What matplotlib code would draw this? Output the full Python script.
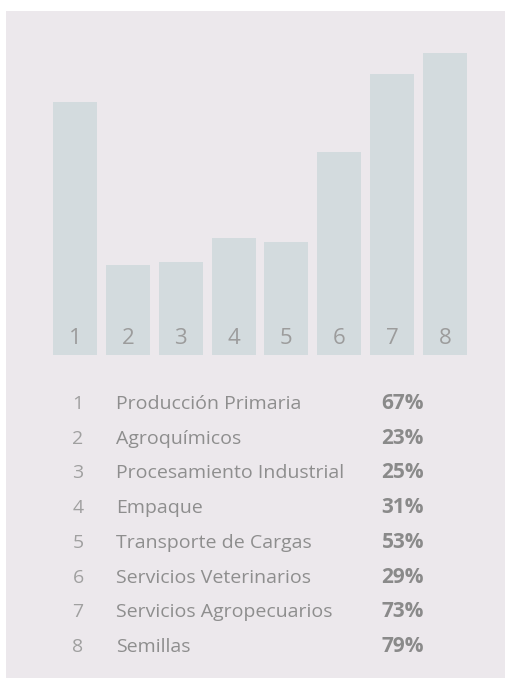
import matplotlib
matplotlib.use("Agg")
import matplotlib.pyplot as plt
from matplotlib.patches import Rectangle

# Data
bar_ids = ["1", "2", "3", "4", "5", "6", "7", "8"]
bar_values = [66.2, 23.5, 24.3, 30.6, 29.6, 53.1, 73.5, 79.0]
names = ["Producción Primaria", "Agroquímicos", "Procesamiento Industrial", "Empaque",
         "Transporte de Cargas", "Servicios Veterinarios", "Servicios Agropecuarios", "Semillas"]
pct_labels = ["67%", "23%", "25%", "31%", "53%", "29%", "73%", "79%"]

W, H = 505, 678
fig = plt.figure(figsize=(W / 100, H / 100), dpi=100, facecolor="white")
FONT = ["Open Sans", "DejaVu Sans"]

def fx(px):
    return px / W

def fy(py):
    return 1 - py / H

# Background panel
fig.patches.append(Rectangle((fx(6), 0), 1 - fx(6), fy(11), transform=fig.transFigure,
                             facecolor="#ece8ec", edgecolor="none", zorder=-5))

# Bar axes
step = (445 - 75) / 7
left_px = 75 - 0.5 * step
right_px = 445 + 0.5 * step
bottom_px, top_px = 355, 53
ax = fig.add_axes([fx(left_px), fy(bottom_px), (right_px - left_px) / W, (bottom_px - top_px) / H])
ax.set_zorder(2)
ax.set_facecolor("none")
xs = list(range(1, len(bar_values) + 1))
ax.bar(xs, bar_values, width=44 / step, color="#d3dbde", edgecolor="none")
ax.set_xlim(0.5, len(bar_values) + 0.5)
ax.set_ylim(0, max(bar_values))
ax.axis("off")
label_y = max(bar_values) * (355 - 343.5) / (bottom_px - top_px)
for x, lab in zip(xs, bar_ids):
    ax.text(x, label_y, lab, ha="center", va="baseline",
            fontsize=16, color="#9c9c9c", family=FONT)

# Table
row0, row_step = 409, (652 - 409) / 7
for i, (rid, nm, pc) in enumerate(zip(bar_ids, names, pct_labels)):
    y = fy(row0 + i * row_step)
    fig.text(fx(78), y, rid, ha="center", va="baseline", fontsize=14, color="#a0a0a0", family=FONT)
    fig.text(fx(116), y, nm, ha="left", va="baseline", fontsize=14, color="#8e8e8e", family=FONT)
    fig.text(fx(424), y, pc, ha="right", va="baseline", fontsize=15, color="#8a8a8a",
             family=FONT, fontweight="bold")

fig.savefig("out.png", dpi=100, facecolor="white")
